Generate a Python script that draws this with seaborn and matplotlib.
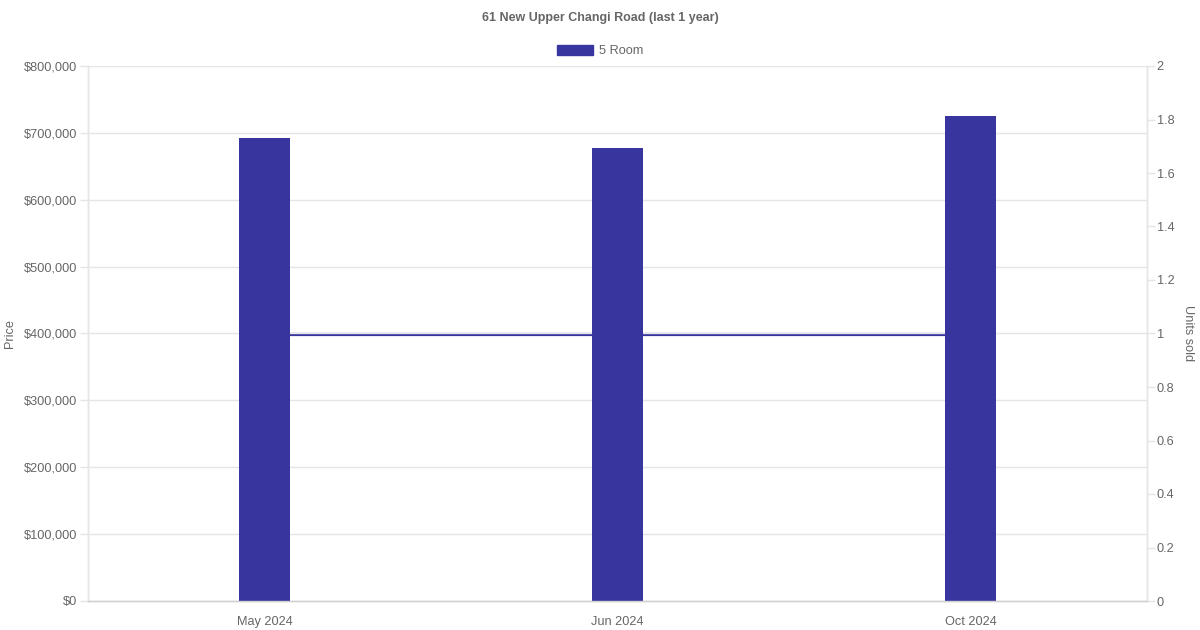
import numpy as np
import pandas as pd
import matplotlib
matplotlib.use("Agg")
import matplotlib.pyplot as plt
import seaborn as sns
from matplotlib.ticker import FuncFormatter, MultipleLocator
from matplotlib.patches import Patch

# Data
months = ["May 2024", "Jun 2024", "Oct 2024"]
prices = [692000, 677000, 725000]
units_sold = [1, 1, 1]

BAR_COLOR = "#38359E"
GRID_COLOR = "#E5E5E5"
TEXT_COLOR = "#666666"

sns.set_theme(style="white")
plt.rcParams["font.family"] = ["Liberation Sans", "DejaVu Sans"]

df = pd.DataFrame({"Month": months, "Price": prices, "Units": units_sold})
df["pos"] = np.arange(len(df))

fig = plt.figure(figsize=(12, 6.3), dpi=100)
ax = fig.add_axes([88 / 1200, 29 / 630, (1147 - 88) / 1200, (601 - 66) / 630])
ax2 = ax.twinx()

# units sold line (drawn behind the bars)
sns.lineplot(data=df, x="pos", y="Units", ax=ax2, color=BAR_COLOR,
             linewidth=2.3, errorbar=None)

sns.barplot(data=df, x="Month", y="Price", ax=ax, color=BAR_COLOR,
            width=0.142, saturation=1, errorbar=None, linewidth=0)

ax.set_zorder(ax2.get_zorder() + 1)
ax.patch.set_visible(False)

ax.set_xlim(-0.5, 2.5)
ax.set_ylim(0, 800000)
ax.yaxis.set_major_locator(MultipleLocator(100000))
ax.yaxis.set_major_formatter(FuncFormatter(lambda v, p: f"${v:,.0f}"))
ax.grid(axis="y", color=GRID_COLOR, linewidth=1)
ax.set_axisbelow(True)

ax2.set_ylim(0, 2)
ax2.yaxis.set_major_locator(MultipleLocator(0.2))
ax2.yaxis.set_major_formatter(FuncFormatter(lambda v, p: f"{v:g}"))
ax2.grid(False)
ax2.set_xlabel("")

for a in (ax, ax2):
    for side, sp in a.spines.items():
        sp.set_color(GRID_COLOR)
        sp.set_linewidth(1)
    a.spines["top"].set_visible(False)
    a.tick_params(colors=GRID_COLOR, labelcolor=TEXT_COLOR, labelsize=9.2,
                  length=6, width=1)
ax.spines["bottom"].set_color("#D0D0D0")
ax.tick_params(axis="x", length=0, pad=11)
ax.tick_params(axis="y", pad=2)
ax2.tick_params(axis="y", pad=1)

ax.set_xlabel("")
ax.set_ylabel("Price", color=TEXT_COLOR, fontsize=9.2)
ax.yaxis.set_label_coords(-(88 - 16) / 1059, 0.5)
ax2.set_ylabel("Units sold", color=TEXT_COLOR, fontsize=9.2, rotation=270, va="center")
ax2.yaxis.set_label_coords(1 + 41 / 1059, 0.5)

fig.suptitle("61 New Upper Changi Road (last 1 year)", y=1 - 18 / 630, va="center",
             fontsize=9, fontweight="bold", color=TEXT_COLOR)

handle = Patch(facecolor=BAR_COLOR, edgecolor=BAR_COLOR)
fig.legend(handles=[handle], labels=["5 Room"], loc="center",
           bbox_to_anchor=(600 / 1200, 1 - 51 / 630), frameon=False,
           handlelength=2.8, handleheight=0.8, handletextpad=0.5,
           fontsize=9.2, labelcolor=TEXT_COLOR)

fig.savefig("out.png", dpi=100)
